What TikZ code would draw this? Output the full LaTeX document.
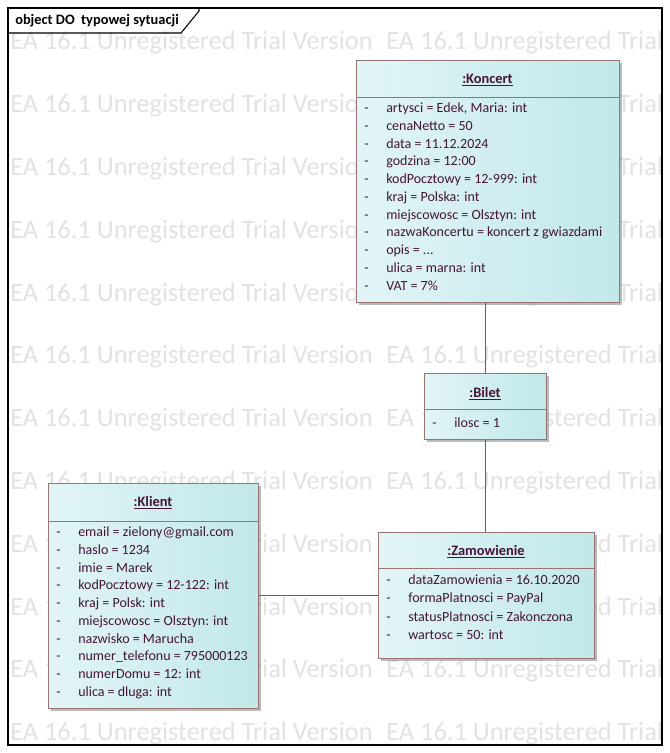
\documentclass[tikz,border=0pt]{standalone}
\usepackage{fontspec}
\setmainfont{Carlito}
\usetikzlibrary{shadows}
\definecolor{objtext}{RGB}{70,20,55}
\definecolor{objborder}{RGB}{155,115,115}
\definecolor{objleft}{RGB}{226,245,246}
\definecolor{objright}{RGB}{193,232,234}
\definecolor{linkcol}{RGB}{85,95,130}
\definecolor{wmark}{RGB}{226,226,226}
\begin{document}
\begin{tikzpicture}[x=0.75pt,y=-0.75pt,
	objbox/.style={draw=objborder, left color=objleft, right color=objright, shape=rectangle, anchor=north west, inner sep=0pt,
		drop shadow={shadow xshift=2.2pt, shadow yshift=-2.2pt, fill=black!45, opacity=0.6}},
	boxsize/.style 2 args={minimum width=#1*0.75pt, minimum height=#2*0.75pt},
	objtitle/.style={text=objtext, font=\fontsize{10.8}{12}\selectfont\bfseries, inner sep=0pt},
	attr/.style={text=objtext, font=\fontsize{10.5}{12}\selectfont, anchor=west, inner sep=0pt, text height=7.5pt, text depth=2pt},
	wm/.style={text=wmark, font=\fontsize{19.8}{22}\selectfont, anchor=west, inner sep=0pt},
	link/.style={draw=linkcol, line width=0.9pt}]
	\fill [white] (0,0) rectangle (670,753);
	\useasboundingbox (0,0) rectangle (670,753);
	
	% watermark
	\begin{scope}
		\clip (8,8) rectangle (662,745);
		\foreach \r in {0,...,11}
			\foreach \c in {10,386}
				\node [wm] (wm-\r-\c) at (\c, {43+62.8*\r}) {EA 16.1 Unregistered Trial Version};
	\end{scope}
	
	% frame
	\draw [black, line width=0.8pt] (8,8) rectangle (662,745);
	\draw [black, line width=0.8pt] (8,33) -- (181,33) -- (199,11) -- (199,8);
	\node [anchor=west, inner sep=0pt, font=\fontsize{10.8}{12}\selectfont\bfseries] (frame-title) at (15,21) {object DO\ \ typowej sytuacji};
	
	% objects
	\node [objbox, boxsize={263}{242}] (koncert) at (356,60) {};
	\node [objbox, boxsize={122}{66}] (bilet) at (424,373) {};
	\node [objbox, boxsize={210}{225}] (klient) at (48,483) {};
	\node [objbox, boxsize={216}{126}] (zamowienie) at (378,532) {};
	
	\draw [objborder] (356,97) -- (619,97);
	\draw [objborder] (424,409) -- (546,409);
	\draw [objborder] (48,521) -- (258,521);
	\draw [objborder] (378,568) -- (594,568);
	
	\node [objtitle] (koncert-title) at (487.5,80) {\underline{:Koncert}};
	\node [objtitle] (bilet-title) at (485,394) {\underline{:Bilet}};
	\node [objtitle] (klient-title) at (153,503) {\underline{:Klient}};
	\node [objtitle] (zamowienie-title) at (486,552) {\underline{:Zamowienie}};
	
	\foreach \t [count=\i from 0] in {{artysci = Edek, Maria: int}, cenaNetto = 50, data = 11.12.2024, godzina = 12:00,
		kodPocztowy = 12-999: int, kraj = Polska: int, miejscowosc = Olsztyn: int, nazwaKoncertu = koncert z gwiazdami,
		{opis = .{}.{}.}, ulica = marna: int, VAT = 7\%} {
		\node [attr] (koncert-d\i) at (364, {109+17.75*\i}) {-};
		\node [attr] (koncert-a\i) at (386, {109+17.75*\i}) {\t};
	}
	
	\node [attr] (bilet-d0) at (432,424) {-};
	\node [attr] (bilet-a0) at (454,424) {ilosc = 1};
	
	\foreach \t [count=\i from 0] in {email = zielony@gmail.com, haslo = 1234, imie = Marek, kodPocztowy = 12-122: int,
		kraj = Polsk: int, miejscowosc = Olsztyn: int, nazwisko = Marucha, numer\_telefonu = 795000123,
		numerDomu = 12: int, ulica = dluga: int} {
		\node [attr] (klient-d\i) at (56, {533+17.75*\i}) {-};
		\node [attr] (klient-a\i) at (78, {533+17.75*\i}) {\t};
	}
	
	\foreach \t [count=\i from 0] in {dataZamowienia = 16.10.2020, formaPlatnosci = PayPal,
		statusPlatnosci = Zakonczona, wartosc = 50: int} {
		\node [attr] (zamowienie-d\i) at (386, {581+18.3*\i}) {-};
		\node [attr] (zamowienie-a\i) at (408, {581+18.3*\i}) {\t};
	}
	
	% links
	\draw [link] (bilet.north) -- (bilet.north |- koncert.south);
	\draw [link] (bilet.south) -- (bilet.south |- zamowienie.north);
	\draw [link] (klient.east) -- (klient.east -| zamowienie.west);
\end{tikzpicture}
\end{document}
